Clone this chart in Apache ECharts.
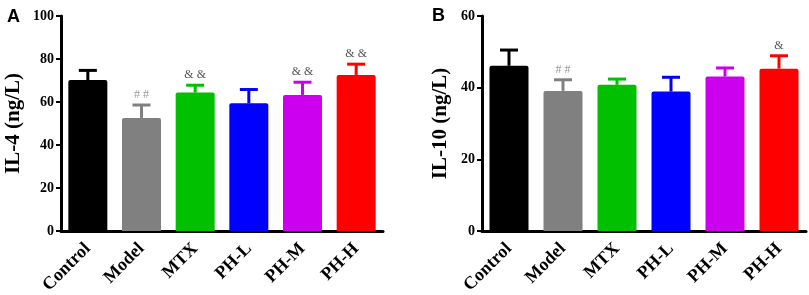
<!DOCTYPE html>
<html>
<head>
<meta charset="utf-8">
<script src="https://cdn.jsdelivr.net/npm/echarts@6/dist/echarts.min.js"></script>
<style>
  html, body { margin: 0; padding: 0; background: #fff; }
  #chart { width: 809px; height: 295px; }
</style>
</head>
<body>
<div id="chart"></div>
<script>
// 分组
const groups = ['Control', 'Model', 'MTX', 'PH-L', 'PH-M', 'PH-H'];
const barColors = ['#000000', '#808080', '#00c000', '#0000ff', '#cc00ee', '#ff0000'];

// IL-4
const il4Mean = [70.2, 52.6, 64.4, 59.4, 63.3, 72.6];
const il4Sd = [4.5, 6.0, 3.4, 6.4, 5.9, 5.0];
const il4Marks = ['', '##', '&&', '', '&&', '&&'];

// IL-10
const il10Mean = [46.1, 39.1, 40.8, 38.9, 43.1, 45.3];
const il10Sd = [4.4, 3.1, 1.6, 4.0, 2.4, 3.6];
const il10Marks = ['', '##', '', '', '', '&'];

const serif = '"Liberation Serif", "Times New Roman", serif';

function yAxisOf(idx, max, name, gap) {
  return {
    gridIndex: idx,
    type: 'value',
    min: 0,
    max: max,
    interval: 20,
    name: name,
    nameLocation: 'middle',
    nameGap: gap,
    nameTextStyle: { fontFamily: serif, fontWeight: 'bold', fontSize: 21, color: '#000' },
    axisLine: { show: true, lineStyle: { color: '#000', width: 3 } },
    axisTick: { show: true, length: 5, lineStyle: { color: '#000', width: 2 } },
    axisLabel: { fontFamily: serif, fontWeight: 'bold', fontSize: 14, color: '#000', margin: 7 },
    splitLine: { show: false }
  };
}

function xAxisOf(idx) {
  return {
    gridIndex: idx,
    type: 'category',
    data: groups,
    axisLine: { lineStyle: { color: '#000', width: 3 } },
    axisTick: { alignWithLabel: true, length: 5, lineStyle: { color: '#000', width: 2 } },
    axisLabel: {
      interval: 0,
      rotate: 45,
      margin: 15,
      fontFamily: serif,
      fontWeight: 'bold',
      fontSize: 18,
      color: '#000'
    }
  };
}

function barSeries(idx, values) {
  return {
    type: 'bar',
    xAxisIndex: idx,
    yAxisIndex: idx,
    barWidth: 39,
    data: values,
    itemStyle: {
      color: (p) => barColors[p.dataIndex],
      borderRadius: [2, 2, 0, 0]
    },
    z: 2
  };
}

// 误差线 + 显著性标记
function errSeries(idx, mean, sd, marks) {
  return {
    type: 'custom',
    xAxisIndex: idx,
    yAxisIndex: idx,
    data: mean.map((m, i) => [i, m, m + sd[i]]),
    z: 3,
    renderItem: (params, api) => {
      const i = api.value(0);
      const low = api.coord([i, api.value(1)]);
      const high = api.coord([i, api.value(2)]);
      const color = barColors[i];
      const children = [
        {
          type: 'line',
          shape: { x1: low[0], y1: low[1], x2: high[0], y2: high[1] },
          style: { stroke: color, lineWidth: 3 }
        },
        {
          type: 'line',
          shape: { x1: high[0] - 9, y1: high[1], x2: high[0] + 9, y2: high[1] },
          style: { stroke: color, lineWidth: 3 }
        }
      ];
      const mark = marks[i];
      if (mark) {
        children.push({
          type: 'text',
          style: {
            text: mark.split('').join(' '),
            x: high[0],
            y: high[1] - 4,
            align: 'center',
            verticalAlign: 'bottom',
            font: '12px ' + serif,
            fill: mark === '##' ? '#999999' : '#555555'
          }
        });
      }
      return { type: 'group', children: children };
    }
  };
}

const chart = echarts.init(document.getElementById('chart'));
chart.setOption({
  animation: false,
  backgroundColor: '#fff',
  title: [
    { text: 'A', left: 2, top: 3, textStyle: { fontFamily: '"Liberation Sans", Arial, sans-serif', fontWeight: 'bold', fontSize: 18, color: '#000' } },
    { text: 'B', left: 427, top: 2, textStyle: { fontFamily: '"Liberation Sans", Arial, sans-serif', fontWeight: 'bold', fontSize: 18, color: '#000' } }
  ],
  grid: [
    { left: 61, top: 16, width: 322, height: 215, outerBoundsMode: 'none' },
    { left: 482, top: 16, width: 324, height: 215, outerBoundsMode: 'none' }
  ],
  xAxis: [xAxisOf(0), xAxisOf(1)],
  yAxis: [yAxisOf(0, 100, 'IL-4 (ng/L)', 37), yAxisOf(1, 60, 'IL-10 (ng/L)', 31)],
  series: [
    barSeries(0, il4Mean),
    errSeries(0, il4Mean, il4Sd, il4Marks),
    barSeries(1, il10Mean),
    errSeries(1, il10Mean, il10Sd, il10Marks)
  ]
});
</script>
</body>
</html>
